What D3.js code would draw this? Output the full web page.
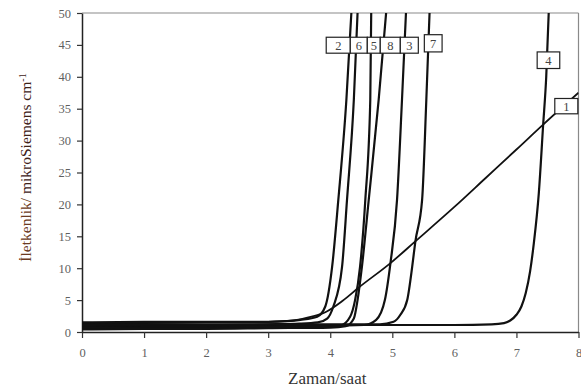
<!DOCTYPE html>
<html>
<head>
<meta charset="utf-8">
<script src="https://cdn.jsdelivr.net/npm/d3@7"></script>
<style>
  html, body { margin: 0; padding: 0; background: #fff; }
  #chart { width: 581px; height: 390px; }
  text { font-family: "Liberation Serif", "DejaVu Serif", serif; }
</style>
</head>
<body>
<div id="chart"></div>
<script>
const seri1 = [[0, 1.3], [1, 1.4], [2, 1.5], [3, 1.6], [3.4, 1.8], [3.7, 2.4], [3.92, 3.1], [4.2, 4.9], [4.45, 6.9],
  [4.97, 10.8], [5.37, 14.2], [6, 19.6], [6.5, 24.1], [7, 28.6], [7.43, 32.5], [8, 37.5]];
const seri2 = [[0, 1.5], [1, 1.6], [2, 1.6], [3, 1.6], [3.3, 1.7], [3.52, 1.9], [3.79, 2.4], [3.92, 4.0],
  [4.03, 10.2], [4.13, 20.7], [4.26, 36.4], [4.34, 50]];
const seri3 = [[0, 0.8], [1, 0.9], [2, 0.9], [3, 1.0], [4, 1.0], [4.55, 1.1], [4.74, 1.9], [4.88, 5.0],
  [4.97, 10.8], [5.076, 20.7], [5.156, 36.4], [5.22, 50]];
const seri4 = [[0, 0.9], [1, 1.0], [2, 1.0], [3, 1.0], [4, 1.1], [5, 1.1], [6, 1.1], [6.6, 1.2], [6.8, 1.4],
  [6.9, 1.8], [7.0, 2.7], [7.08, 4.0], [7.15, 6.1], [7.22, 9.5], [7.28, 13.9], [7.36, 21.7], [7.43, 32.4],
  [7.48, 40], [7.52, 50]];
const seri5 = [[0, 0.6], [1, 0.7], [2, 0.7], [3, 0.8], [4, 0.9], [4.16, 1.0], [4.32, 2.4], [4.40, 5.0],
  [4.48, 10.2], [4.565, 20.7], [4.645, 36.4], [4.66, 50]];
const seri6 = [[0, 1.0], [1, 1.1], [2, 1.1], [3, 1.2], [3.5, 1.3], [3.8, 1.5], [3.95, 2.1], [4.05, 4.0],
  [4.19, 10.2], [4.27, 20.7], [4.38, 36.4], [4.44, 50]];
const seri7 = [[0, 1.1], [1, 1.2], [2, 1.2], [3, 1.2], [4, 1.2], [4.8, 1.2], [5.02, 1.6], [5.13, 2.7],
  [5.24, 5.0], [5.32, 10.2], [5.37, 14.1], [5.48, 20.7], [5.548, 36.4], [5.60, 50]];
const seri8 = [[0, 0.4], [1, 0.5], [2, 0.5], [3, 0.6], [4, 0.7], [4.25, 0.9], [4.38, 2.1], [4.44, 5.0],
  [4.51, 10.2], [4.62, 20.7], [4.78, 36.4], [4.90, 50]];

const seriesNames = ['1', '2', '3', '4', '5', '6', '7', '8'];
const seriesData = [seri1, seri2, seri3, seri4, seri5, seri6, seri7, seri8];

const xTicks = [0, 1, 2, 3, 4, 5, 6, 7, 8];
const yTicks = [0, 5, 10, 15, 20, 25, 30, 35, 40, 45, 50];

const xTitle = 'Zaman/saat';
const yTitleA = 'İletkenlik/';
const yTitleB = ' mikroSiemens cm';

// label boxes, in data units: [name, left t, right t, top v, bottom v]
const labelBoxes = [
  ['2', 3.935, 4.323, 46.2, 43.7],
  ['6', 4.323, 4.597, 46.2, 43.7],
  ['5', 4.597, 4.806, 46.2, 43.7],
  ['8', 4.806, 5.129, 46.2, 43.7],
  ['3', 5.129, 5.419, 46.2, 43.7],
  ['7', 5.516, 5.802, 46.6, 43.9],
  ['4', 7.334, 7.698, 43.9, 41.3],
  ['1', 7.618, 7.989, 36.6, 34.2]
];

const width = 581;
const height = 390;
const margin = { top: 13, right: 2, bottom: 58, left: 82 };

const svg = d3.select('#chart')
  .append('svg')
  .attr('width', width)
  .attr('height', height);

const x = d3.scaleLinear().domain([0, 8]).range([margin.left, width - margin.right - 0.5]);
const y = d3.scaleLinear().domain([0, 50]).range([height - margin.bottom, margin.top]);

svg.append('defs').append('clipPath')
  .attr('id', 'plot-clip')
  .append('rect')
  .attr('x', margin.left)
  .attr('y', margin.top)
  .attr('width', x(8) - margin.left)
  .attr('height', y(0) - margin.top);

// frame: top and right in gray
svg.append('line')
  .attr('x1', x(0)).attr('x2', x(8))
  .attr('y1', y(50)).attr('y2', y(50))
  .attr('stroke', '#8a8a8a').attr('stroke-width', 1.2);
svg.append('line')
  .attr('x1', x(8)).attr('x2', x(8))
  .attr('y1', y(50)).attr('y2', y(0))
  .attr('stroke', '#8a8a8a').attr('stroke-width', 1.2);

// axes
const xAxis = svg.append('g')
  .attr('transform', `translate(0,${y(0)})`)
  .call(d3.axisBottom(x).tickValues(xTicks).tickSize(6).tickSizeOuter(0).tickFormat(d3.format('d')));

const yAxis = svg.append('g')
  .attr('transform', `translate(${x(0)},0)`)
  .call(d3.axisLeft(y).tickValues(yTicks).tickSize(5).tickSizeOuter(0).tickFormat(d3.format('d')));

[xAxis, yAxis].forEach(g => {
  g.select('.domain').attr('stroke', '#222').attr('stroke-width', 1.5);
  g.selectAll('.tick line').attr('stroke', '#333').attr('stroke-width', 1.2);
  g.selectAll('.tick text')
    .attr('fill', '#5f5f5f')
    .style('font-family', '"Liberation Serif", serif')
    .style('font-size', '12.5px');
});
xAxis.selectAll('.tick text').attr('dy', '1.25em');
yAxis.selectAll('.tick text').attr('x', -11);

// curves
const line = d3.line()
  .x(d => x(d[0]))
  .y(d => y(d[1]))
  .curve(d3.curveMonotoneX);

svg.append('g')
  .attr('clip-path', 'url(#plot-clip)')
  .selectAll('path')
  .data(seriesData)
  .join('path')
  .attr('fill', 'none')
  .attr('stroke', '#111')
  .attr('stroke-width', (d, i) => seriesNames[i] === '1' ? 1.8 : 2.2)
  .attr('stroke-linejoin', 'round')
  .attr('d', line);

// series labels in boxes
const boxes = svg.append('g')
  .selectAll('g')
  .data(labelBoxes)
  .join('g');

boxes.append('rect')
  .attr('x', d => x(d[1]))
  .attr('y', d => y(d[3]))
  .attr('width', d => x(d[2]) - x(d[1]))
  .attr('height', d => y(d[4]) - y(d[3]))
  .attr('fill', '#fff')
  .attr('stroke', '#222')
  .attr('stroke-width', 1.2);

boxes.append('text')
  .attr('x', d => (x(d[1]) + x(d[2])) / 2)
  .attr('y', d => (y(d[3]) + y(d[4])) / 2)
  .attr('dy', '0.36em')
  .attr('text-anchor', 'middle')
  .attr('fill', '#444')
  .style('font-size', '12.5px')
  .text(d => d[0]);

// axis titles
svg.append('text')
  .attr('x', (x(0) + x(8)) / 2 - 3)
  .attr('y', 384)
  .attr('text-anchor', 'middle')
  .attr('fill', '#333')
  .style('font-size', '17px')
  .text(xTitle);

const yTitle = svg.append('text')
  .attr('transform', `translate(31,${(y(0) + y(50)) / 2 - 5}) rotate(-90)`)
  .attr('text-anchor', 'middle')
  .style('font-size', '15.5px');
yTitle.append('tspan').attr('fill', '#6b3b22').text(yTitleA);
yTitle.append('tspan').attr('fill', '#3e2218').text(yTitleB);
yTitle.append('tspan').attr('fill', '#3e2218').attr('dy', '-0.5em').style('font-size', '10px').text('-1');
</script>
</body>
</html>
